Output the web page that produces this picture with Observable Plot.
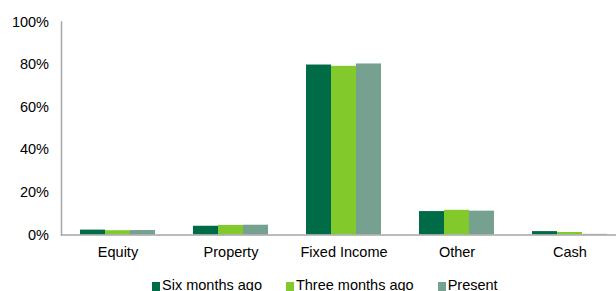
<!DOCTYPE html>
<html>
<head>
<meta charset="utf-8">
<script src="https://cdn.jsdelivr.net/npm/d3@7"></script>
<script src="https://cdn.jsdelivr.net/npm/@observablehq/plot@0.6"></script>
<style>
  html, body { margin: 0; padding: 0; background: #fff; overflow: hidden; }
  body { width: 616px; height: 291px; position: relative; font-family: "Liberation Sans", Arial, sans-serif; }
  #legend { position: absolute; left: 152px; top: 278px; display: flex; font-size: 14.5px; line-height: 14.5px; color: #000; white-space: nowrap; }
  .item { display: flex; align-items: center; margin-right: 24px; }
  .sw { width: 8px; height: 9px; margin-right: 2px; margin-top: 3px; }
</style>
</head>
<body>
<div id="chart"></div>
<div id="legend"></div>
<script>
const categories = ["Equity", "Property", "Fixed Income", "Other", "Cash"];
const seriesNames = ["Six months ago", "Three months ago", "Present"];
const sixMonthsAgo   = [2.3, 4.1, 79.8, 11.0, 1.6];
const threeMonthsAgo = [2.0, 4.5, 79.2, 11.6, 1.2];
const present        = [2.1, 4.6, 80.3, 11.2, 0.3];
const colors = ["#006b47", "#82c92b", "#76a190"];
const yTicks = [0, 20, 40, 60, 80, 100];

const seriesValues = [sixMonthsAgo, threeMonthsAgo, present];
const data = [];
categories.forEach((c, i) => {
  seriesNames.forEach((s, j) => data.push({category: c, series: s, value: seriesValues[j][i]}));
});

const chart = Plot.plot({
  width: 616,
  height: 270,
  marginLeft: 60,
  marginRight: -10,
  marginTop: 21.5,
  marginBottom: 35.5,
  style: {fontFamily: "'Liberation Sans', Arial, sans-serif", fontSize: "14.5px", color: "#000", background: "#fff"},
  fx: {domain: categories, paddingInner: 0, paddingOuter: 0, label: null, tickSize: 0, tickPadding: 12},
  x: {domain: seriesNames, axis: null, paddingInner: 0, paddingOuter: 0.73},
  y: {domain: [0, 100], ticks: yTicks, tickFormat: d => d + "%", tickSize: 0, tickPadding: 12.5, label: null},
  color: {domain: seriesNames, range: colors},
  marks: [
    Plot.barY(data, {fx: "category", x: "series", y: "value", fill: "series"}),
    Plot.frame({anchor: "bottom", stroke: "#a6a6a6", strokeWidth: 1.5, facet: "super"}),
    Plot.frame({anchor: "left", stroke: "#a6a6a6", strokeWidth: 1.5, facet: "super"})
  ]
});
document.getElementById("chart").appendChild(chart);

const legend = document.getElementById("legend");
seriesNames.forEach((s, i) => {
  const it = document.createElement("div");
  it.className = "item";
  const sw = document.createElement("span");
  sw.className = "sw";
  sw.style.background = colors[i];
  const tx = document.createElement("span");
  tx.textContent = s;
  it.appendChild(sw); it.appendChild(tx);
  legend.appendChild(it);
});
</script>
</body>
</html>
